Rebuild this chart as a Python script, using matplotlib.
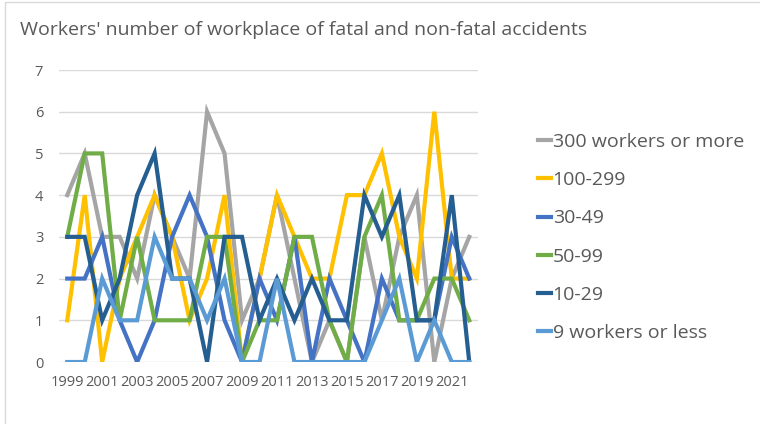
import matplotlib
matplotlib.use("Agg")
import matplotlib.pyplot as plt
from matplotlib.patches import Rectangle

# data (1999-2022)
years = list(range(1999, 2023))
over300 = [4, 5, 3, 3, 2, 4, 3, 2, 6, 5, 1, 2, 4, 2, 0, 1, 0, 3, 1, 3, 4, 0, 2, 3]
w100_299 = [1, 4, 0, 2, 3, 4, 3, 1, 2, 4, 0, 2, 4, 3, 2, 2, 4, 4, 5, 3, 2, 6, 2, 2]
w30_49 = [2, 2, 3, 1, 0, 1, 3, 4, 3, 1, 0, 2, 1, 3, 0, 2, 1, 0, 2, 1, 1, 1, 3, 2]
w50_99 = [3, 5, 5, 1, 3, 1, 1, 1, 3, 3, 0, 1, 1, 3, 3, 1, 0, 3, 4, 1, 1, 2, 2, 1]
w10_29 = [3, 3, 1, 2, 4, 5, 2, 2, 0, 3, 3, 1, 2, 1, 2, 1, 1, 4, 3, 4, 1, 1, 4, 0]
under9 = [0, 0, 2, 1, 1, 3, 2, 2, 1, 2, 0, 0, 2, 0, 0, 0, 0, 0, 1, 2, 0, 1, 0, 0]

series = [
    ("300 workers or more", over300, "#A5A5A5"),
    ("100-299", w100_299, "#FFC000"),
    ("30-49", w30_49, "#4472C4"),
    ("50-99", w50_99, "#70AD47"),
    ("10-29", w10_29, "#255E91"),
    ("9 workers or less", under9, "#5B9BD5"),
]

plt.rcParams['font.family'] = ['Open Sans', 'DejaVu Sans']
txt = "#595959"

W, H = 760, 424
fig = plt.figure(figsize=(W / 100, H / 100), dpi=100)

# chart border
fig.patches.append(Rectangle((4.5 / W, -0.1), 1.2, 1.1 - 2 / H, transform=fig.transFigure,
                             fill=False, edgecolor="#D9D9D9", lw=1))

ax = fig.add_axes([58.5 / W, (H - 362) / H, (478 - 58.5) / W, (362 - 70) / H])

x = list(range(len(years)))
for name, vals, col in series:
    ax.plot(x, vals, color=col, lw=3, label=name, solid_joinstyle="miter")

ax.set_xlim(-0.5, len(years) - 0.5)
ax.set_ylim(0, 7)
ax.set_yticks(range(8))
ax.set_xticks(x[::2])
ax.set_xticklabels([str(y) for y in years[::2]])
ax.grid(axis="y", color="#D9D9D9", lw=1)
ax.set_axisbelow(True)
for s in ax.spines.values():
    s.set_visible(False)
ax.tick_params(axis="y", length=0, pad=11, labelsize=10.5, labelcolor=txt)
ax.tick_params(axis="x", length=0, pad=9, labelsize=10.5, labelcolor=txt)

fig.text(20 / W, 1 - 30 / H, "Workers' number of workplace of fatal and non-fatal accidents",
         fontsize=14, color=txt, va="center", ha="left")

leg = fig.legend(loc="center left", bbox_to_anchor=(538 / W, 1 - 237.5 / H),
                 frameon=False, fontsize=14, handlelength=0.65, handletextpad=0.1,
                 labelspacing=1.04, borderpad=0, borderaxespad=0)
for t in leg.get_texts():
    t.set_color(txt)

fig.savefig("out.png", dpi=100)
